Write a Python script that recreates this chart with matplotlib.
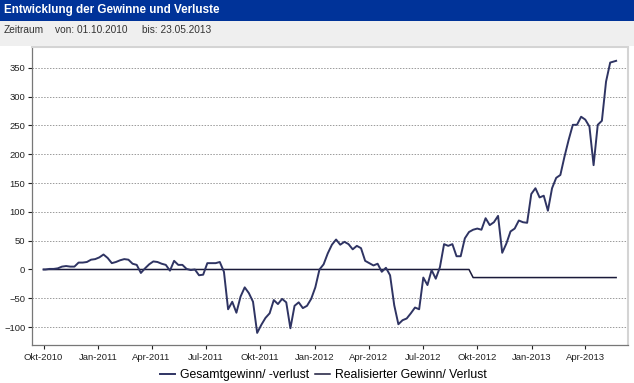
import numpy as np
import pandas as pd
import matplotlib
matplotlib.use("Agg")
import matplotlib.pyplot as plt

# weekly values (Mondays), starting 04.10.2010
week_start = "2010-10-04"
total_pl = [
    0, 1, 1, 2, 5, 6, 5, 5, 12, 12,
    13, 17, 18, 21, 26, 20, 11, 13, 16, 18,
    17, 10, 8, -6, 2, 9, 14, 13, 10, 8,
    -2, 15, 8, 8, 1, -1, 0, -10, -9, 11,
    11, 11, 13, -4, -69, -56, -75, -47, -31, -41,
    -56, -110, -96, -84, -76, -53, -60, -51, -57, -102,
    -63, -57, -67, -63, -51, -31, 0, 9, 28, 43,
    52, 43, 48, 44, 35, 41, 37, 15, 11, 7,
    10, -4, 3, -10, -62, -95, -88, -85, -76, -66,
    -69, -14, -27, -1, -16, 4, 44, 41, 44, 23,
    23, 54, 65, 69, 71, 69, 89, 77, 82, 93,
    29, 45, 66, 71, 85, 82, 81, 131, 141, 125,
    128, 102, 141, 159, 164, 196, 225, 251, 251, 265,
    260, 248, 181, 251, 258, 326, 359, 361,
]
first_day, first_val = "2010-10-01", 0
last_day, last_val = "2013-05-23", 362

realized_dates = ["2010-10-01", "2012-09-17", "2012-09-24", "2013-05-23"]
realized_vals = [0, 0, -14, -14]

tick_dates = ["2010-10-01", "2011-01-01", "2011-04-01", "2011-07-01",
              "2011-10-01", "2012-01-01", "2012-04-01", "2012-07-01",
              "2012-10-01", "2013-01-01", "2013-04-01"]
tick_labels = ["Okt-2010", "Jan-2011", "Apr-2011", "Jul-2011", "Okt-2011",
               "Jan-2012", "Apr-2012", "Jul-2012", "Okt-2012", "Jan-2013",
               "Apr-2013"]
y_ticks = [-100, -50, 0, 50, 100, 150, 200, 250, 300, 350]

title = "Entwicklung der Gewinne und Verluste"
subtitle_parts = [("Zeitraum", 4), ("von: 01.10.2010", 55), ("bis: 23.05.2013", 142)]
legend_labels = ["Gesamtgewinn/ -verlust", "Realisierter Gewinn/ Verlust"]

plt.rcParams["font.family"] = ["Liberation Sans", "DejaVu Sans"]

dates = pd.to_datetime([first_day] + list(pd.date_range(week_start, periods=len(total_pl), freq="7D"))
                       + [last_day])
values = [first_val] + total_pl + [last_val]

W, H = 634, 383
fig = plt.figure(figsize=(W / 100, H / 100), dpi=100)
fig.patch.set_facecolor("white")

# header bands
fig.patches.append(plt.Rectangle((0, 1 - 21 / H), 1, 21 / H, transform=fig.transFigure,
                                 facecolor="#003399", edgecolor="none", zorder=0))
fig.patches.append(plt.Rectangle((0, 1 - 46 / H), 1, 25 / H, transform=fig.transFigure,
                                 facecolor="#efefef", edgecolor="none", zorder=0))
fig.text(4 / W, 1 - 10.5 / H, title, color="white", fontsize=8.4, fontweight="bold",
         va="center", ha="left")
for txt, xpos in subtitle_parts:
    fig.text(xpos / W, 1 - 30 / H, txt, color="#333333", fontsize=7.3,
             va="center", ha="left")

ax = fig.add_axes([32.3 / W, 1 - 345 / H, (628 - 32.3) / W, (345 - 47) / H])
ax.plot(dates, values, color="#2f3463", lw=1.4, label=legend_labels[0], zorder=3)
ax.plot(pd.to_datetime(realized_dates), realized_vals, color="#1a1a3a", lw=1.1,
        label=legend_labels[1], zorder=2)

ax.set_xlim(pd.Timestamp("2010-09-12"), pd.Timestamp("2013-06-12"))
ax.set_ylim(-131, 386)
ax.set_yticks(y_ticks)
ax.set_xticks(pd.to_datetime(tick_dates))
ax.set_xticklabels(tick_labels)
ax.tick_params(axis="both", labelsize=6.8, colors="#222222", length=3, width=0.8, pad=2)
ax.tick_params(axis="x", pad=3)
for t in y_ticks:
    if t != 0:
        ax.axhline(t, color="#9a9a9a", lw=0.7, ls=(0, (1.5, 1.5)), zorder=1)

for side in ["top", "right"]:
    ax.spines[side].set_color("#d4d4d4")
    ax.spines[side].set_linewidth(1.5)
for side in ["left", "bottom"]:
    ax.spines[side].set_color("#777777")
    ax.spines[side].set_linewidth(0.9)

fig.legend(loc="center", bbox_to_anchor=(0.51, 1 - 375 / H), ncol=2, frameon=False,
           fontsize=8.8, handlelength=1.2, handletextpad=0.4, columnspacing=0.5,
           borderaxespad=0)

fig.savefig("out.png", dpi=100)
